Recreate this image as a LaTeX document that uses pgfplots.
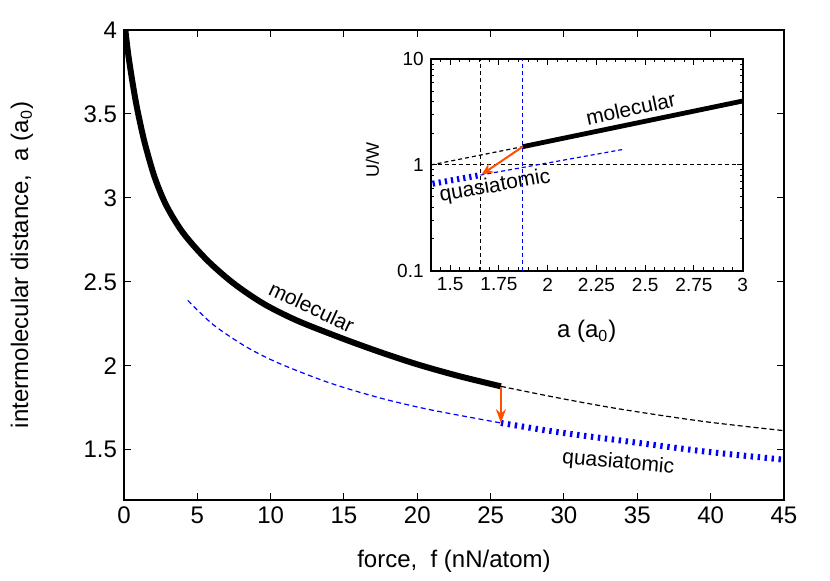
\documentclass[border=0pt]{standalone}
\usepackage{fontspec}
\setmainfont{Liberation Sans}
\usepackage{pgfplots}
\pgfplotsset{compat=1.18}
\usetikzlibrary{arrows.meta}
\definecolor{arrorange}{RGB}{255,80,0}
\begin{document}
\begin{tikzpicture}
\begin{axis}[at={(0pt,0pt)}, anchor=south west, scale only axis,
  width=330pt, height=235pt,
  xmin=0, xmax=45, ymin=1.2, ymax=4,
  xtick={0,5,10,15,20,25,30,35,40,45},
  xticklabels={0,5,10,15,20,25,30,35,40,45},
  ytick={1.5,2,2.5,3,3.5,4},
  yticklabels={1.5,2,2.5,3,3.5,4},
  tick align=inside, xtick pos=both, ytick pos=both,
  major tick length=3.5pt, tick style={line width=0.5pt, black},
  axis line style={line width=0.7pt},
  ticklabel style={font=\fontsize{12}{14}\selectfont},
  label style={font=\fontsize{12}{14}\selectfont},
  xlabel={force,\ \ f (nN/atom)},
  ylabel={intermolecular distance,\ \ a (a\textsubscript{0})},
  x label style={at={(axis description cs:0.5,-0.131)}, anchor=center},
  y label style={at={(axis description cs:-0.1545,0.5)}, anchor=center},
]
% molecular (stable)
\addplot[black, line width=3pt, smooth, tension=0.5] coordinates {
 (0.07,4.02) (0.13,3.97) (0.32,3.835) (0.68,3.635) (0.97,3.5) (1.42,3.325)
 (2.1,3.12) (2.9,2.952) (4.04,2.79) (5.64,2.631) (7.45,2.492) (9.5,2.37)
 (11.77,2.27) (14.72,2.168) (17.3,2.086) (20,2.008) (22.8,1.939) (25.7,1.877)};
% molecular (continued, dashed)
\addplot[black, line width=0.6pt, dash pattern=on 2.5pt off 1.5pt, smooth] coordinates {
 (25.7,1.877) (29.5,1.81) (33.8,1.742) (39.5,1.668) (45,1.613)};
% quasiatomic (dashed)
\addplot[blue, line width=0.6pt, dash pattern=on 2.5pt off 1.7pt, smooth] coordinates {
 (4.35,2.389) (6.09,2.244) (8.36,2.111) (10.63,2.012) (14.04,1.897)
 (17.45,1.808) (20.86,1.738) (25.7,1.659)};
% quasiatomic (stable, thick dotted)
\addplot[blue, line width=3pt, dash pattern=on 1.2pt off 2.3pt, smooth] coordinates {
 (25.7,1.659) (29.5,1.605) (33.8,1.555) (39.5,1.49) (45,1.44)};
% transition arrow
\addplot[arrorange, line width=1pt, -{Stealth[length=7pt,width=5pt]}] coordinates {
 (25.7,1.872) (25.7,1.658)};
\node[rotate=-25, font=\fontsize{10.5}{12}\selectfont] at (axis cs:12.8,2.35) {molecular};
\node[rotate=-5, font=\fontsize{10.5}{12}\selectfont] at (axis cs:33.7,1.42) {quasiatomic};
\end{axis}

\begin{axis}[at={(153.35pt,114.65pt)}, anchor=south west, scale only axis,
  width=156pt, height=105.7pt,
  ymode=log, xmin=1.4, xmax=3, ymin=0.1, ymax=10,
  xtick={1.5,1.75,2,2.25,2.5,2.75,3},
  xticklabels={1.5,1.75,2,2.25,2.5,2.75,3},
  minor xtick={1.4,1.45,1.55,1.6,1.65,1.7,1.8,1.85,1.9,1.95,2.05,2.1,2.15,2.2,2.3,2.35,2.4,2.45,2.55,2.6,2.65,2.7,2.8,2.85,2.9,2.95},
  ytick={0.1,1,10}, yticklabels={0.1,1,10},
  minor ytick={0.2,0.3,0.4,0.5,0.6,0.7,0.8,0.9,2,3,4,5,6,7,8,9},
  tick align=inside, xtick pos=both, ytick pos=both,
  major tick length=3pt, minor tick length=1.6pt,
  tick style={line width=0.5pt, black},
  axis line style={line width=1pt},
  ticklabel style={font=\fontsize{9.5}{11}\selectfont},
  xlabel={a (a\textsubscript{0})},
  ylabel={U/W},
  x label style={font=\fontsize{12}{14}\selectfont, at={(axis description cs:0.5,-0.289)}, anchor=center},
  y label style={font=\fontsize{9}{11}\selectfont, at={(axis description cs:-0.187,0.524)}, anchor=center},
]
% guide lines
\addplot[black, line width=0.5pt, dash pattern=on 2pt off 1.5pt] coordinates {(1.4,1) (3,1)};
\addplot[black, line width=0.5pt, dash pattern=on 2pt off 1.5pt] coordinates {(1.655,0.1) (1.655,10)};
\addplot[blue, line width=0.5pt, dash pattern=on 2pt off 1.5pt] coordinates {(1.872,0.1) (1.872,10)};
% molecular
\addplot[black, line width=0.6pt, dash pattern=on 2pt off 1.5pt] coordinates {(1.4,1.0) (1.872,1.49)};
\addplot[black, line width=2.4pt] coordinates {(1.872,1.49) (3,4.03)};
% quasiatomic
\addplot[blue, line width=0.6pt, dash pattern=on 2pt off 1.5pt] coordinates {(1.655,0.803) (2.39,1.408)};
\addplot[blue, line width=3pt, dash pattern=on 1.1pt off 2pt] coordinates {(1.41,0.665) (1.655,0.803)};
% transition arrow
\addplot[arrorange, line width=1pt, -{Stealth[length=6pt,width=5pt]}] coordinates {(1.872,1.49) (1.66,0.81)};
\node[rotate=12, font=\fontsize{10.5}{12}\selectfont] at (axis cs:2.426,3.44) {molecular};
\node[rotate=10, font=\fontsize{10.5}{12}\selectfont] at (axis cs:1.73,0.624) {quasiatomic};
\end{axis}
\pgfresetboundingbox
\path[use as bounding box] (-62pt,-40.5pt) rectangle (353pt,250pt);
\end{tikzpicture}
\end{document}
